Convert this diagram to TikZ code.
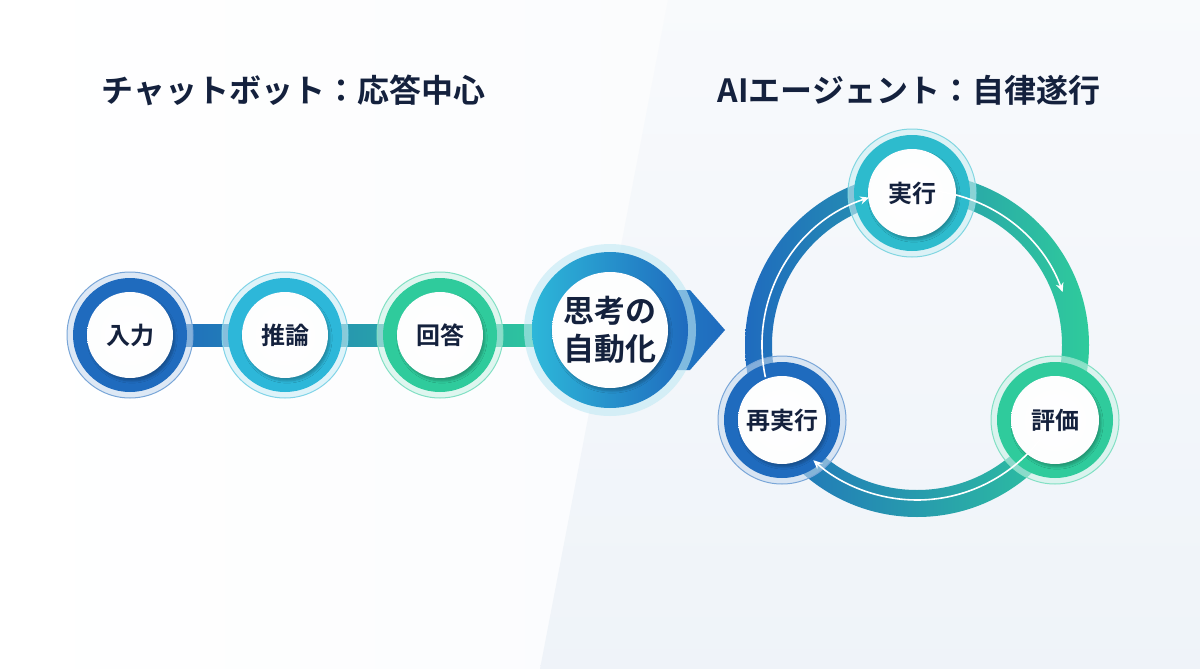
\documentclass[tikz,border=0pt]{standalone}
\usepackage{fontspec}
\setmainfont{Noto Sans CJK JP}[BoldFont={* Bold}]
\usetikzlibrary{arrows.meta,shadows.blur}
\definecolor{navy}{HTML}{14213D}
\definecolor{cblue}{HTML}{1F6BBE}
\definecolor{ccyan}{HTML}{2DB7D9}
\definecolor{cgreen}{HTML}{2FCB9C}
\definecolor{bgl}{HTML}{F7F9FC}
\definecolor{bgr}{HTML}{EDF2F8}
\tikzset{
 x=1pt,y=-1pt,
 lbl/.style={font=\bfseries\fontsize{24}{28}\selectfont,text=navy,align=center},
 ttl/.style={font=\bfseries\fontsize{32}{36}\selectfont,text=navy,anchor=west},
 inner/.style={circle,inner sep=0pt,shading=radial,inner color=white,outer color=white!88!bgr,blur shadow={shadow blur steps=6,shadow xshift=2pt,shadow yshift=-3pt,shadow opacity=25}},
 flow/.style={draw=white,line width=1.6pt,-{Stealth[length=9pt,width=8pt]}}
}
\newcommand{\stage}[5]{% name, pos, color, inner r, outer r
 \fill[#3!25,opacity=0.6] #2 circle ({#5+6});
 \draw[#3!60,line width=1pt] #2 circle ({#5+6});
 \fill[#3] #2 circle (#5);
 \node[inner,minimum size={2*#4pt}] (#1) at #2 {};
}
\begin{document}
\begin{tikzpicture}
\useasboundingbox (0,0) rectangle (1200,669);
\shade[left color=white,right color=bgl] (0,0) rectangle (1200,669);
\shade[top color=bgr!40,bottom color=bgr!90] (668,0) -- (1200,0) -- (1200,669) -- (540,669) -- cycle;
\node[ttl] (t1) at (98,90) {チャットボット：応答中心};
\node[ttl] (t2) at (714,90) {AIエージェント：自律遂行};
% left chain bars
\shade[left color=cblue,right color=cgreen] (160,323) rectangle (560,347);
\draw[white,line width=1pt] (160,323) -- (560,323) (160,347) -- (560,347);
\shade[left color=cblue!60!ccyan,right color=cblue] (600,290) -- (690,290) -- (725,330) -- (690,370) -- (600,370) -- cycle;
\stage{n1}{(130,335)}{cblue}{43}{57}
\stage{n2}{(285,335)}{ccyan}{43}{57}
\stage{n3}{(440,335)}{cgreen}{43}{57}
\fill[ccyan!30,opacity=0.6] (610,330) circle (86);
\shade[left color=ccyan,right color=cblue] (610,330) circle (78);
\node[inner,minimum size=116pt] (n4) at (610,330) {};
\node[lbl] at (n1) {入力};
\node[lbl] at (n2) {推論};
\node[lbl] at (n3) {回答};
\node[lbl,font=\bfseries\fontsize{31}{38}\selectfont] at (n4) {思考の\\自動化};
% ring
\coordinate (c) at (917,345);
\shade[left color=cblue,right color=cgreen,even odd rule] (c) circle (172) (c) circle (145);
\stage{a}{(912,193)}{ccyan!80!cgreen}{44}{58}
\stage{b}{(1055,420)}{cgreen}{44}{58}
\stage{r}{(782,420)}{cblue}{44}{58}
\draw[flow] ([shift={(-84:155)}]c) arc[start angle=-84,end angle=-20,radius=155];
\draw[flow] ([shift={(36:155)}]c) arc[start angle=36,end angle=132,radius=155];
\draw[flow] ([shift={(168:155)}]c) arc[start angle=168,end angle=252,radius=155];
\node[lbl] at (a) {実行};
\node[lbl] at (b) {評価};
\node[lbl] at (r) {再実行};
\end{tikzpicture}
\end{document}
